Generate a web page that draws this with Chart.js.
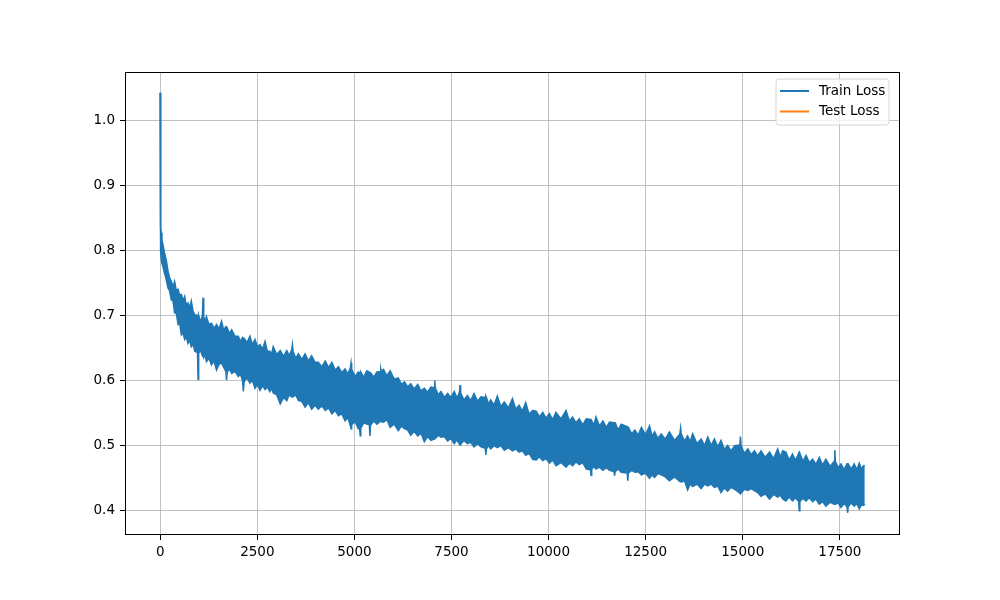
<!DOCTYPE html>
<html>
<head>
<meta charset="utf-8">
<script src="https://cdn.jsdelivr.net/npm/chart.js@4.4.0/dist/chart.umd.min.js"></script>
<style>
  html, body { margin: 0; padding: 0; background: #fff; }
</style>
</head>
<body>
<canvas id="loss-chart" width="1000" height="600"></canvas>
<script>
const steps = [
    0, 4, 8, 15, 26, 45, 70, 110, 155, 200,
    240, 285, 330, 370, 415, 460, 500, 545, 590, 630,
    670, 715, 760, 800, 845, 890, 960, 975, 990, 1040,
    1085, 1103, 1120, 1155, 1190, 1255, 1320, 1385, 1450, 1515,
    1580, 1635, 1690, 1707, 1725, 1780, 1840, 1925, 2010, 2065,
    2120, 2140, 2160, 2235, 2310, 2375, 2440, 2505, 2570, 2635,
    2700, 2760, 2820, 2865, 2910, 3000, 3090, 3175, 3260, 3320,
    3385, 3404, 3420, 3490, 3560, 3645, 3730, 3815, 3900, 3985,
    4070, 4160, 4250, 4335, 4420, 4505, 4590, 4675, 4760, 4830,
    4895, 4914, 4930, 5015, 5100, 5135, 5150, 5165, 5240, 5320,
    5385, 5400, 5415, 5500, 5580, 5665, 5680, 5695, 5750, 5835,
    5920, 6025, 6130, 6210, 6290, 6370, 6450, 6540, 6630, 6715,
    6800, 6885, 6970, 7055, 7071, 7085, 7160, 7230, 7315, 7400,
    7485, 7570, 7640, 7705, 7720, 7735, 7820, 7910, 7995, 8080,
    8170, 8260, 8370, 8385, 8400, 8455, 8510, 8595, 8680, 8770,
    8860, 8965, 9070, 9155, 9240, 9325, 9410, 9500, 9590, 9680,
    9765, 9850, 9935, 10020, 10105, 10190, 10320, 10450, 10535, 10620,
    10705, 10790, 10880, 10970, 11080, 11095, 11110, 11165, 11220, 11310,
    11400, 11485, 11570, 11685, 11700, 11715, 11790, 11870, 12025, 12040,
    12055, 12140, 12220, 12305, 12390, 12495, 12600, 12665, 12730, 12815,
    12900, 13005, 13110, 13245, 13380, 13400, 13415, 13500, 13580, 13645,
    13710, 13820, 13930, 14015, 14100, 14185, 14270, 14355, 14440, 14525,
    14610, 14700, 14790, 14925, 14940, 14955, 15040, 15130, 15215, 15300,
    15385, 15470, 15580, 15690, 15795, 15900, 15965, 16030, 16110, 16195,
    16280, 16360, 16440, 16455, 16470, 16550, 16630, 16715, 16800, 16885,
    16970, 17055, 17140, 17250, 17355, 17370, 17385, 17455, 17530, 17610,
    17685, 17700, 17715, 17790, 17870, 17935, 18000, 18055, 18110, 18142
];
// upper edge of the noisy train loss band
const trainLossHigh = [
    1.042, 0.900, 0.854, 0.835, 0.827, 0.815, 0.809, 0.796, 0.785, 0.768,
    0.758, 0.752, 0.744, 0.752, 0.738, 0.740, 0.731, 0.732, 0.722, 0.729,
    0.716, 0.719, 0.712, 0.722, 0.706, 0.701, 0.700, 0.698, 0.700, 0.690,
    0.699, 0.727, 0.698, 0.690, 0.698, 0.686, 0.688, 0.680, 0.686, 0.679,
    0.691, 0.677, 0.683, 0.682, 0.681, 0.672, 0.678, 0.668, 0.668, 0.660,
    0.666, 0.665, 0.665, 0.658, 0.668, 0.655, 0.663, 0.652, 0.655, 0.648,
    0.660, 0.644, 0.645, 0.640, 0.652, 0.640, 0.646, 0.637, 0.646, 0.638,
    0.647, 0.655, 0.645, 0.634, 0.641, 0.632, 0.641, 0.630, 0.638, 0.628,
    0.628, 0.621, 0.630, 0.620, 0.628, 0.616, 0.621, 0.612, 0.618, 0.610,
    0.619, 0.627, 0.617, 0.606, 0.613, 0.612, 0.612, 0.613, 0.605, 0.615,
    0.613, 0.612, 0.612, 0.605, 0.613, 0.614, 0.618, 0.614, 0.617, 0.607,
    0.615, 0.602, 0.604, 0.594, 0.598, 0.590, 0.595, 0.587, 0.594, 0.584,
    0.588, 0.582, 0.590, 0.589, 0.600, 0.588, 0.578, 0.583, 0.574, 0.580,
    0.574, 0.583, 0.573, 0.582, 0.593, 0.581, 0.570, 0.577, 0.569, 0.580,
    0.568, 0.575, 0.574, 0.576, 0.574, 0.564, 0.570, 0.562, 0.576, 0.560,
    0.567, 0.558, 0.572, 0.556, 0.562, 0.553, 0.566, 0.548, 0.554, 0.553,
    0.544, 0.551, 0.542, 0.549, 0.540, 0.551, 0.541, 0.554, 0.538, 0.544,
    0.535, 0.541, 0.532, 0.541, 0.540, 0.540, 0.540, 0.531, 0.544, 0.530,
    0.538, 0.528, 0.536, 0.535, 0.535, 0.535, 0.524, 0.533, 0.529, 0.528,
    0.528, 0.518, 0.524, 0.516, 0.528, 0.517, 0.530, 0.514, 0.521, 0.511,
    0.518, 0.510, 0.521, 0.508, 0.518, 0.527, 0.518, 0.507, 0.515, 0.506,
    0.518, 0.503, 0.510, 0.500, 0.513, 0.500, 0.510, 0.498, 0.508, 0.494,
    0.500, 0.492, 0.500, 0.501, 0.514, 0.500, 0.488, 0.495, 0.486, 0.492,
    0.484, 0.492, 0.482, 0.490, 0.480, 0.495, 0.482, 0.492, 0.490, 0.478,
    0.487, 0.477, 0.488, 0.490, 0.488, 0.476, 0.485, 0.474, 0.479, 0.471,
    0.482, 0.470, 0.479, 0.468, 0.476, 0.493, 0.476, 0.466, 0.472, 0.463,
    0.472, 0.472, 0.472, 0.464, 0.472, 0.463, 0.473, 0.464, 0.469, 0.469
];
// lower edge of the same band
const trainLossLow = [
    1.042, 0.880, 0.835, 0.800, 0.786, 0.780, 0.775, 0.765, 0.755, 0.742,
    0.738, 0.724, 0.722, 0.704, 0.703, 0.686, 0.688, 0.670, 0.673, 0.663,
    0.667, 0.657, 0.662, 0.652, 0.656, 0.645, 0.643, 0.602, 0.642, 0.646,
    0.638, 0.637, 0.636, 0.640, 0.629, 0.634, 0.624, 0.630, 0.616, 0.625,
    0.627, 0.620, 0.614, 0.601, 0.613, 0.618, 0.611, 0.614, 0.606, 0.610,
    0.600, 0.583, 0.598, 0.604, 0.596, 0.600, 0.588, 0.594, 0.585, 0.592,
    0.586, 0.590, 0.583, 0.588, 0.581, 0.578, 0.564, 0.574, 0.569, 0.578,
    0.575, 0.577, 0.575, 0.578, 0.569, 0.568, 0.559, 0.566, 0.556, 0.562,
    0.556, 0.561, 0.554, 0.558, 0.549, 0.554, 0.546, 0.549, 0.538, 0.543,
    0.531, 0.526, 0.532, 0.537, 0.526, 0.526, 0.515, 0.527, 0.535, 0.533,
    0.532, 0.515, 0.531, 0.538, 0.533, 0.537, 0.539, 0.537, 0.536, 0.540,
    0.528, 0.533, 0.523, 0.530, 0.526, 0.524, 0.516, 0.522, 0.515, 0.519,
    0.506, 0.514, 0.508, 0.510, 0.510, 0.511, 0.516, 0.513, 0.514, 0.507,
    0.511, 0.503, 0.509, 0.502, 0.501, 0.502, 0.508, 0.503, 0.505, 0.498,
    0.503, 0.498, 0.496, 0.486, 0.495, 0.500, 0.495, 0.500, 0.497, 0.500,
    0.493, 0.497, 0.492, 0.495, 0.490, 0.492, 0.485, 0.488, 0.479, 0.478,
    0.483, 0.477, 0.480, 0.473, 0.478, 0.469, 0.474, 0.467, 0.473, 0.469,
    0.475, 0.471, 0.474, 0.464, 0.463, 0.454, 0.463, 0.468, 0.464, 0.467,
    0.462, 0.466, 0.462, 0.460, 0.454, 0.460, 0.464, 0.459, 0.458, 0.446,
    0.458, 0.462, 0.459, 0.460, 0.455, 0.458, 0.450, 0.455, 0.451, 0.457,
    0.455, 0.452, 0.446, 0.452, 0.445, 0.445, 0.444, 0.446, 0.432, 0.441,
    0.437, 0.441, 0.434, 0.441, 0.438, 0.441, 0.436, 0.438, 0.428, 0.435,
    0.430, 0.436, 0.433, 0.427, 0.426, 0.427, 0.433, 0.431, 0.434, 0.431,
    0.428, 0.422, 0.426, 0.418, 0.425, 0.421, 0.424, 0.418, 0.415, 0.421,
    0.415, 0.420, 0.414, 0.400, 0.414, 0.419, 0.415, 0.420, 0.414, 0.418,
    0.410, 0.414, 0.407, 0.413, 0.410, 0.412, 0.410, 0.412, 0.405, 0.411,
    0.406, 0.397, 0.406, 0.412, 0.407, 0.411, 0.403, 0.409, 0.408, 0.410
];
const testLoss = []; // nothing was plotted for the test curve
const xTicks = [0, 2500, 5000, 7500, 10000, 12500, 15000, 17500];
const yTicks = [0.4, 0.5, 0.6, 0.7, 0.8, 0.9, 1.0];

const BLUE = "#1f77b4";
const ORANGE = "#ff7f0e";
const FONT = "DejaVu Sans";

// matplotlib-style legend box and full frame around the axes
const mplLegend = {
    id: "mplLegend",
    afterDraw(chart) {
        const { ctx, chartArea } = chart;
        ctx.save();
        ctx.strokeStyle = "#000";
        ctx.lineWidth = 1;
        ctx.strokeRect(chartArea.left + 0.5, chartArea.top + 0.5,
            chartArea.right - chartArea.left - 1, chartArea.bottom - chartArea.top - 1);

        const items = [
            { text: "Train Loss", color: BLUE },
            { text: "Test Loss", color: ORANGE }
        ];
        const x = chartArea.right - 124, y = chartArea.top + 7, w = 113, h = 46, r = 3;
        ctx.beginPath();
        ctx.moveTo(x + r, y);
        ctx.arcTo(x + w, y, x + w, y + h, r);
        ctx.arcTo(x + w, y + h, x, y + h, r);
        ctx.arcTo(x, y + h, x, y, r);
        ctx.arcTo(x, y, x + w, y, r);
        ctx.closePath();
        ctx.fillStyle = "rgba(255,255,255,0.8)";
        ctx.fill();
        ctx.strokeStyle = "#d6d6d6";
        ctx.lineWidth = 1;
        ctx.stroke();

        ctx.font = "13.5px '" + FONT + "'";
        ctx.textBaseline = "middle";
        items.forEach((it, i) => {
            const ly = y + 12 + i * 20.5;
            ctx.strokeStyle = it.color;
            ctx.lineWidth = 2;
            ctx.beginPath();
            ctx.moveTo(x + 4, ly);
            ctx.lineTo(x + 33, ly);
            ctx.stroke();
            ctx.fillStyle = "#000";
            ctx.fillText(it.text, x + 43, ly);
        });
        ctx.restore();
    }
};

const ctx = document.getElementById("loss-chart").getContext("2d");
new Chart(ctx, {
    type: "line",
    data: {
        datasets: [
            {
                label: "Train Loss",
                data: steps.map((s, i) => ({ x: s, y: trainLossHigh[i] })),
                borderColor: BLUE,
                backgroundColor: BLUE,
                borderWidth: 1.5,
                pointRadius: 0,
                tension: 0,
                fill: 2
            },
            {
                label: "Test Loss",
                data: testLoss,
                borderColor: ORANGE,
                backgroundColor: ORANGE,
                borderWidth: 1.5,
                pointRadius: 0,
                fill: false
            },
            {
                label: "train-low",
                data: steps.map((s, i) => ({ x: s, y: trainLossLow[i] })),
                borderColor: BLUE,
                backgroundColor: BLUE,
                borderWidth: 1.5,
                pointRadius: 0,
                tension: 0,
                fill: false
            }
        ]
    },
    options: {
        responsive: false,
        animation: false,
        devicePixelRatio: 1,
        layout: { padding: { left: 0, top: 72, right: 100, bottom: 0 } },
        plugins: {
            legend: { display: false },
            tooltip: { enabled: false }
        },
        scales: {
            x: {
                type: "linear",
                min: -907,
                max: 19049,
                afterFit: (scale) => { scale.height = 65; },
                afterBuildTicks: (scale) => { scale.ticks = xTicks.map(v => ({ value: v })); },
                grid: { color: "#b0b0b0", lineWidth: 0.8, tickColor: "#000", tickLength: 5, tickWidth: 1 },
                border: { display: false },
                ticks: {
                    color: "#000",
                    padding: 4,
                    maxRotation: 0,
                    font: { family: FONT, size: 13.5 },
                    callback: (v) => String(v)
                }
            },
            y: {
                type: "linear",
                min: 0.3627,
                max: 1.0738,
                afterFit: (scale) => { scale.width = 125; },
                afterBuildTicks: (scale) => { scale.ticks = yTicks.map(v => ({ value: v })); },
                grid: { color: "#b0b0b0", lineWidth: 0.8, tickColor: "#000", tickLength: 5, tickWidth: 1 },
                border: { display: false },
                ticks: {
                    color: "#000",
                    padding: 5,
                    font: { family: FONT, size: 13.5 },
                    callback: (v) => v.toFixed(1)
                }
            }
        }
    },
    plugins: [mplLegend]
});
</script>
</body>
</html>
